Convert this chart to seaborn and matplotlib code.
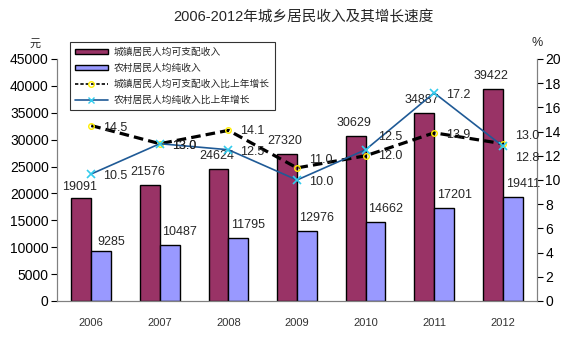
import numpy as np
import pandas as pd
import matplotlib
matplotlib.use("Agg")
import matplotlib.pyplot as plt
import seaborn as sns
from matplotlib.patches import Patch
from matplotlib.lines import Line2D

years = ["2006", "2007", "2008", "2009", "2010", "2011", "2012"]
urban_income = [19091, 21576, 24624, 27320, 30629, 34887, 39422]
rural_income = [9285, 10487, 11795, 12976, 14662, 17201, 19411]
urban_growth = [14.5, 13.0, 14.1, 11.0, 12.0, 13.9, 13.0]
rural_growth = [10.5, 13.0, 12.5, 10.0, 12.5, 17.2, 12.8]

lab_urban = "城镇居民人均可支配收入"
lab_rural = "农村居民人均纯收入"
lab_ug = "城镇居民人均可支配收入比上年增长"
lab_rg = "农村居民人均纯收入比上年增长"
title = "2006-2012年城乡居民收入及其增长速度"

sns.set_style("white")
plt.rcParams["font.family"] = ["Liberation Sans", "Noto Sans CJK SC", "DejaVu Sans"]

c_urban = "#993366"
c_rural = "#9999FF"

df = pd.DataFrame({
    "year": years * 2,
    "value": urban_income + rural_income,
    "type": [lab_urban] * len(years) + [lab_rural] * len(years),
})

fig = plt.figure(figsize=(5.76, 3.40), dpi=100)
ax = fig.add_axes([57 / 576, 1 - 301 / 340, 480 / 576, 242 / 340])
sns.barplot(data=df, x="year", y="value", hue="type", hue_order=[lab_urban, lab_rural],
            palette=[c_urban, c_rural], saturation=1, width=0.58, edgecolor="black",
            linewidth=1, ax=ax, legend=False, gap=0)
ax.set_xlim(-0.5, len(years) - 0.5)
ax.set_ylim(0, 45000)
ax.set_yticks(np.arange(0, 45001, 5000))
ax.set_xlabel("")
ax.set_ylabel("")
ax.tick_params(axis="y", direction="out", length=4, width=0.8, labelsize=10, pad=2, left=True, colors="black")
ax.tick_params(axis="x", length=0, labelsize=8, pad=12)
for lbl in ax.get_xticklabels():
    lbl.set_color("#333333")
ax.set_xticks(np.arange(-0.5, len(years), 1), minor=True)
ax.tick_params(axis="x", which="minor", direction="in", length=3, width=0.8, color="#808080")
for s in ["left", "bottom", "right"]:
    ax.spines[s].set_color("#808080")
    ax.spines[s].set_linewidth(0.8)
ax.spines["top"].set_visible(False)

# value labels for bars
n = len(years)
for i in range(n):
    ax.annotate(f"{urban_income[i]}", (i - 0.145, urban_income[i]), xytext=(-2, 5 if i == 0 else 7),
                textcoords="offset pixels", ha="center", va="bottom", fontsize=9)
    ax.annotate(f"{rural_income[i]}", (i + 0.145, rural_income[i]), xytext=(10, 3 if i == 0 else 7),
                textcoords="offset pixels", ha="center", va="bottom", fontsize=9)

ax2 = ax.twinx()
xpos = np.arange(n)
sns.lineplot(x=xpos, y=urban_growth, ax=ax2, color="black", linewidth=2.3,
             linestyle=(0, (3, 1.6)), marker="o", markersize=4,
             markeredgecolor="#FFEE00", markerfacecolor="none", markeredgewidth=1)
sns.lineplot(x=xpos, y=rural_growth, ax=ax2, color="#1F5A96", linewidth=1.2,
             marker="x", markersize=6, markeredgecolor="#33CCEE", markeredgewidth=1.2)
ax2.set_ylim(0, 20)
ax2.set_yticks(np.arange(0, 21, 2))
ax2.set_xlim(-0.5, n - 0.5)
ax2.tick_params(axis="y", direction="out", length=4, width=0.8, labelsize=10, pad=2, right=True, colors="black")
for s in ["left", "bottom", "right"]:
    ax2.spines[s].set_color("#808080")
    ax2.spines[s].set_linewidth(0.8)
ax2.spines["top"].set_visible(False)
ax2.grid(False)
ax.grid(False)

dy_u = [-2, -2, -1, 8, 0, -2, 8]
dy_r = [-2, -2, -2, -2, 13, -2, -12]
for i in range(n):
    ax2.annotate(f"{urban_growth[i]:.1f}", (i, urban_growth[i]), xytext=(12, dy_u[i]),
                 textcoords="offset pixels", ha="left", va="center", fontsize=9)
    ax2.annotate(f"{rural_growth[i]:.1f}", (i, rural_growth[i]), xytext=(12, dy_r[i]),
                 textcoords="offset pixels", ha="left", va="center", fontsize=9)

handles = [
    Patch(facecolor=c_urban, edgecolor="black", linewidth=1, label=lab_urban),
    Patch(facecolor=c_rural, edgecolor="black", linewidth=1, label=lab_rural),
    Line2D([0], [0], color="black", linestyle=(0, (2, 1.2)), linewidth=1.2, marker="o",
           markersize=4, markeredgecolor="#FFEE00", markerfacecolor="none", label=lab_ug),
    Line2D([0], [0], color="#1F5A96", linewidth=1.2, marker="x", markersize=5,
           markeredgecolor="#33CCEE", label=lab_rg),
]
leg = ax2.legend(handles=handles, loc="upper left", bbox_to_anchor=(70 / 576, 1 - 42 / 340),
                 bbox_transform=fig.transFigure, fontsize=7, frameon=True, fancybox=False,
                 handlelength=3.4, handleheight=0.5, labelspacing=0.62, borderpad=0.5,
                 handletextpad=0.6, borderaxespad=0)
leg.get_frame().set_edgecolor("black")
leg.get_frame().set_linewidth(0.8)
leg.get_frame().set_facecolor("white")

fig.text(35 / 576, 1 - 44 / 340, "元", ha="center", va="center", fontsize=8,
         family=["Noto Sans CJK SC"])
fig.text(537 / 576, 1 - 43 / 340, "%", ha="center", va="center", fontsize=9)
fig.text(303 / 576, 1 - 17 / 340, title, ha="center", va="center", fontsize=10.5,
         family=["Liberation Sans", "Noto Sans CJK SC"])

fig.savefig("out.png", dpi=100, facecolor="white")
